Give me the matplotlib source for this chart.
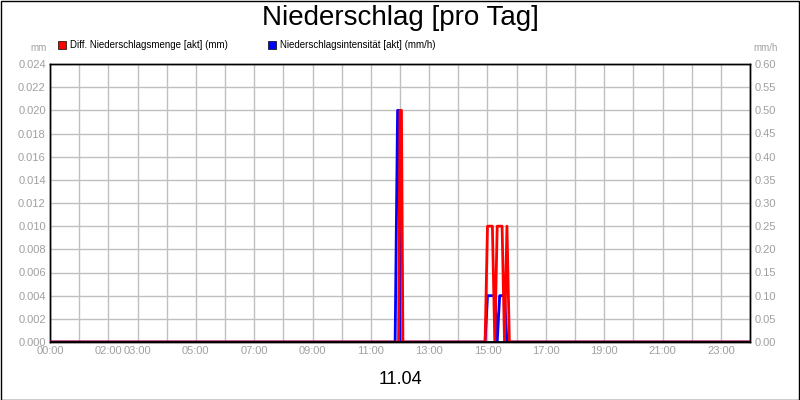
import numpy as np
import matplotlib
matplotlib.use('Agg')
import matplotlib.pyplot as plt
from matplotlib.patches import Rectangle
plt.rcParams['font.family'] = ['Liberation Sans', 'DejaVu Sans']

# Stunden seit 00:00
menge_t = [0, 11.95, 12.0, 12.05, 12.1, 14.917, 15.0, 15.083, 15.167, 15.25, 15.333, 15.417, 15.5, 15.583, 15.667, 15.75, 24]
menge_v = [0, 0, 0.020, 0.020, 0, 0, 0.010, 0.010, 0.010, 0, 0.010, 0.010, 0.010, 0, 0.010, 0, 0]

int_t = [0, 11.833, 11.917, 11.967, 12.0, 14.917, 15.0, 15.083, 15.167, 15.25, 15.333, 15.417, 15.5, 15.583, 15.667, 24]
int_v = [0, 0, 0.50, 0.50, 0, 0, 0.10, 0.10, 0.10, 0.10, 0, 0.10, 0.10, 0.10, 0, 0]

xtick_hours = [0, 2, 3, 5, 7, 9, 11, 13, 15, 17, 19, 21, 23]
xtick_labels = ['%02d:00' % h for h in xtick_hours]

W, H = 800, 400
fig = plt.figure(figsize=(8, 4), dpi=100)
fig.patches.append(Rectangle((0.5 / W, 0.5 / H), 1 - 1.5 / W, 1 - 1.5 / H, transform=fig.transFigure,
                             fill=False, edgecolor='black', linewidth=1))
ax = fig.add_axes([50 / W, 1 - 342 / H, 700 / W, 278 / H])
ax2 = ax.twinx()

ax.set_xlim(0, 24)
ax.set_ylim(0, 0.024)
ax2.set_ylim(0, 0.60)
ax.set_xticks(range(25))
ax.set_xticklabels([xtick_labels[xtick_hours.index(h)] if h in xtick_hours else '' for h in range(25)])
ax.set_yticks(np.arange(0, 0.0241, 0.002))
ax.set_yticklabels(['%.3f' % v for v in np.arange(0, 0.0241, 0.002)])
ax2.set_yticks(np.arange(0, 0.601, 0.05))
ax2.set_yticklabels(['%.2f' % v for v in np.arange(0, 0.601, 0.05)])
ax.grid(True, color='#c0c0c0', linewidth=1)
for a in (ax, ax2):
    a.tick_params(labelsize=8, labelcolor='#a0a0a0', length=0, pad=3)
    for s in a.spines.values():
        s.set_linewidth(1)

ax2.plot(int_t, int_v, color='blue', linewidth=2, zorder=3)
ax2.plot(np.array(menge_t), np.array(menge_v) * 25, color='red', linewidth=2, zorder=4)
ax2.axhline(0, color='black', linewidth=2, zorder=5)

fig.text(0.5, 1 - 18 / H, 'Niederschlag [pro Tag]', ha='center', va='center', fontsize=20)
fig.text(0.5, 1 - 380 / H, '11.04', ha='center', va='center', fontsize=13)
fig.text(47 / W, 1 - 48 / H, 'mm', ha='right', va='center', fontsize=7, color='#a0a0a0')
fig.text(753 / W, 1 - 48 / H, 'mm/h', ha='left', va='center', fontsize=7, color='#a0a0a0')

fig.patches.append(Rectangle((58 / W, 1 - 49 / H), 8 / W, 8 / H, transform=fig.transFigure,
                             facecolor='red', edgecolor='black', linewidth=0.5))
fig.text(70 / W, 1 - 44.5 / H, 'Diff. Niederschlagsmenge [akt] (mm)', va='center', fontsize=7)
fig.patches.append(Rectangle((268 / W, 1 - 49 / H), 8 / W, 8 / H, transform=fig.transFigure,
                             facecolor='blue', edgecolor='black', linewidth=0.5))
fig.text(280 / W, 1 - 44.5 / H, 'Niederschlagsintensität [akt] (mm/h)', va='center', fontsize=7)

fig.savefig('out.png', dpi=100)
